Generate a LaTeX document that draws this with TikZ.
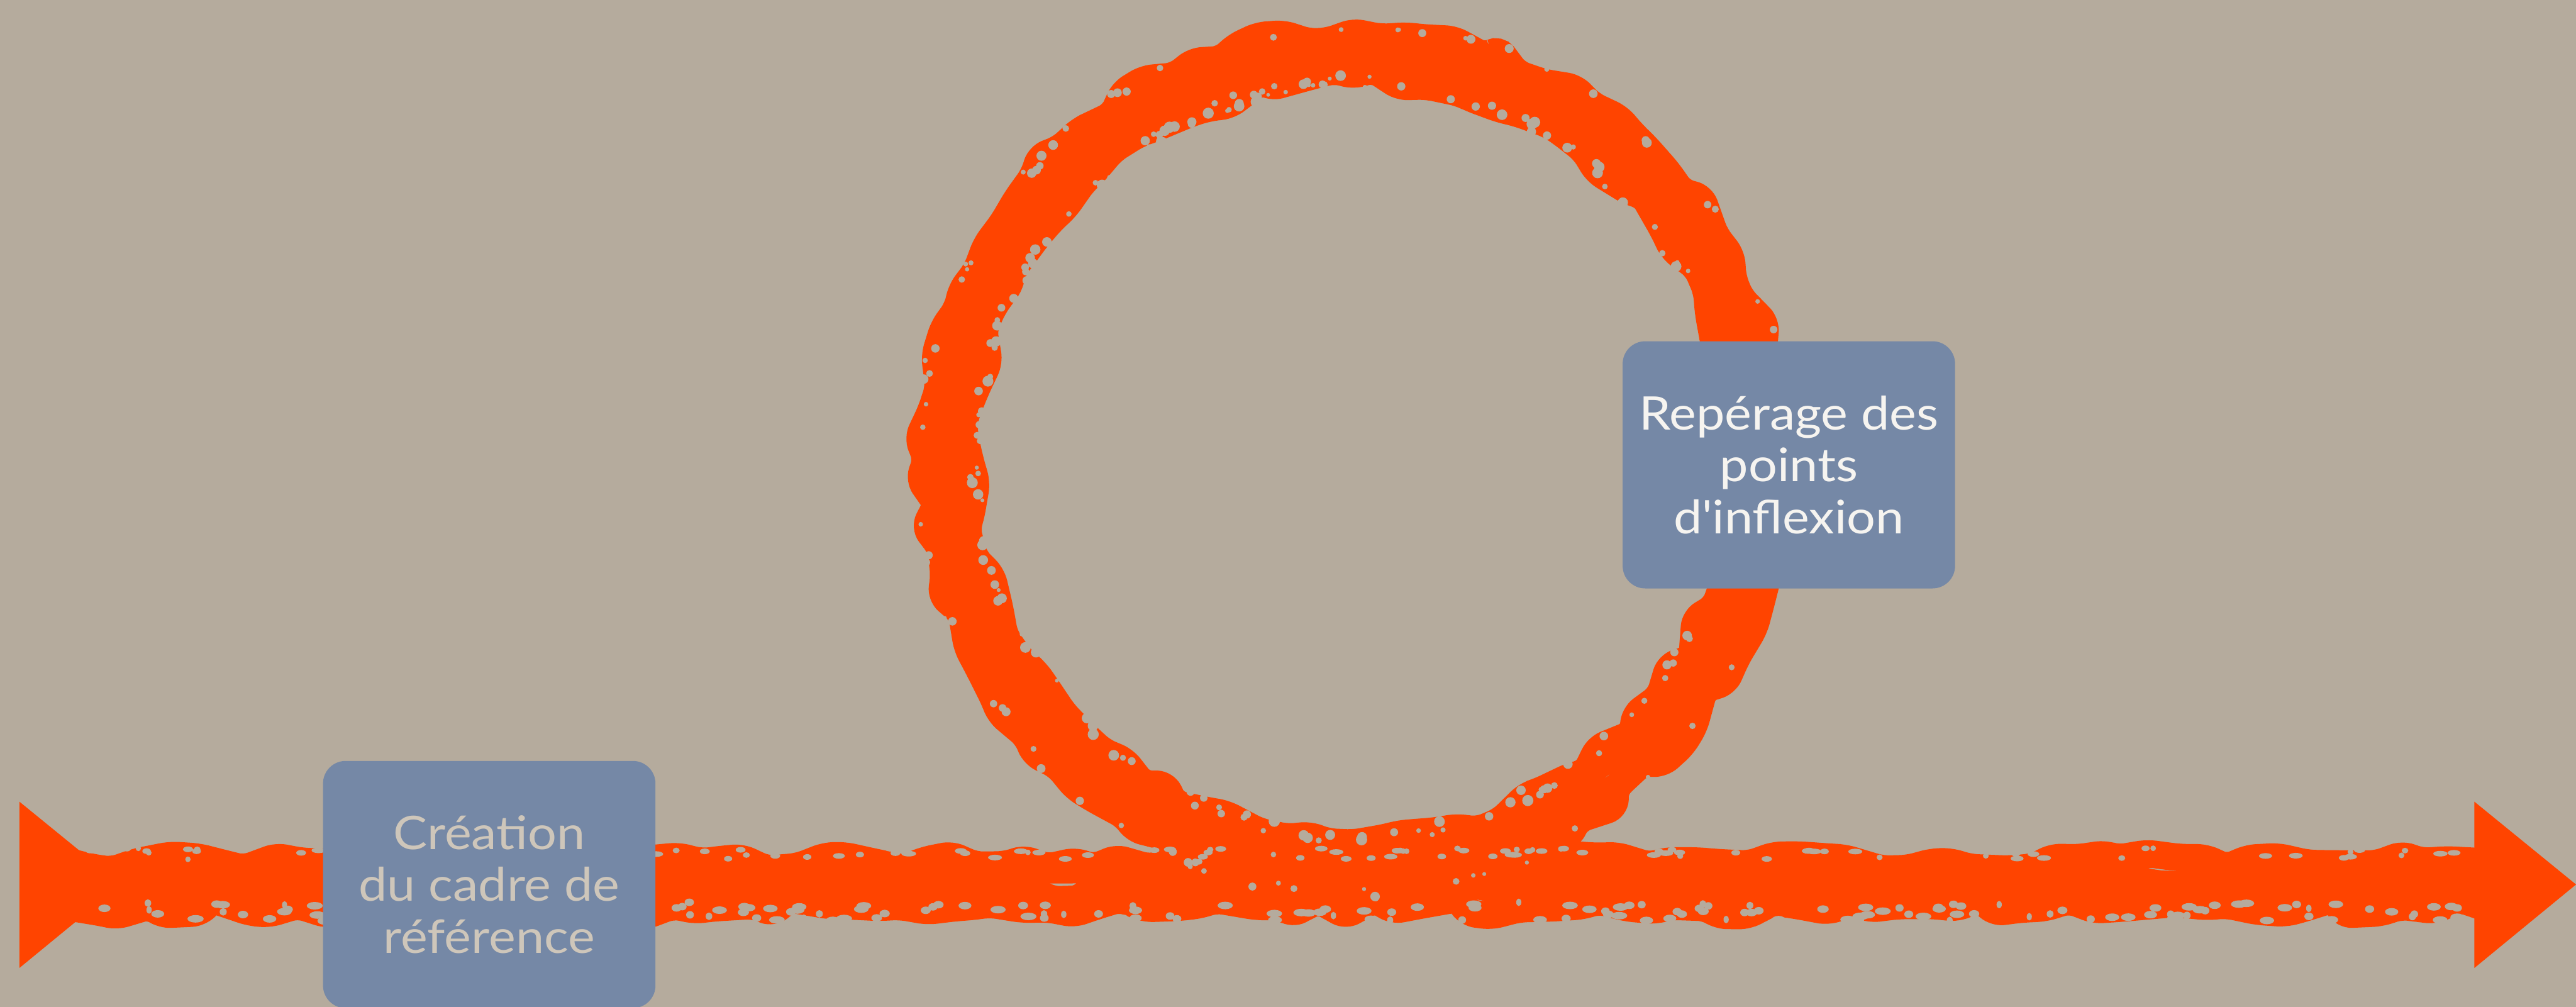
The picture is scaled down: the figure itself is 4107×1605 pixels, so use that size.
\documentclass[tikz,border=0pt]{standalone}
\usepackage{fontspec}
\setmainfont{Lato}[FakeStretch=1.1, Ligatures=TeXOff]
\usetikzlibrary{decorations.pathmorphing}
\definecolor{paper}{RGB}{181,171,157}
\definecolor{brush}{RGB}{255,68,0}
\definecolor{slate}{RGB}{117,136,166}
\definecolor{dimtext}{RGB}{206,198,186}
\definecolor{lighttext}{RGB}{246,244,240}

\begin{document}
\begin{tikzpicture}[x=0.1mm, y=-0.1mm,
    stroke/.style={draw=brush, line width=4.4mm, decorate,
      decoration={random steps, segment length=4mm, amplitude=1.4mm}, rounded corners=1.3mm},
    hole/.style={fill=paper},
    stepbox/.style={fill=slate, rounded corners=3.6mm, minimum width=53mm, minimum height=39.4mm,
      align=center, inner sep=0pt, font=\fontsize{21pt}{23.5pt}\selectfont}]
    \useasboundingbox (0,0) rectangle (4107,1605);
    \fill[paper] (0,0) rectangle (4107,1605);
    \pgfmathsetseed{17}

    % time line
    \coordinate (tail) at (110,1410);
    \coordinate (head) at (3960,1410);
    \foreach \dy in {-36,-12,12,36}
        \draw[stroke] ([yshift=\dy*0.1mm]tail) -- ([yshift=\dy*0.1mm]head);

    % loop
    \coordinate (loop) at (2158,732);
    \foreach \r in {611,634,657,680}
        \draw[stroke] (loop) circle (\r);

    % paint gaps along the edges
    \foreach \i in {1,...,110}{
        \pgfmathsetmacro{\hx}{140+3780*rnd}
        \pgfmathsetmacro{\hy}{1352+18*rnd}
        \pgfmathsetmacro{\rx}{0.4+0.8*rnd}
        \fill[hole] (\hx,\hy) ellipse (\rx mm and 0.45mm);
    }
    \foreach \i in {1,...,170}{
        \pgfmathsetmacro{\hx}{140+3780*rnd}
        \pgfmathsetmacro{\hy}{1438+30*rnd}
        \pgfmathsetmacro{\rx}{0.4+0.9*rnd}
        \fill[hole] (\hx,\hy) ellipse (\rx mm and 0.6mm);
    }
    \foreach \i in {1,...,160}{
        \pgfmathsetmacro{\ha}{-25-310*rnd}
        \pgfmathsetmacro{\hr}{590+22*rnd}
        \pgfmathsetmacro{\rx}{0.3+0.6*rnd}
        \fill[hole] (loop) ++(\ha:\hr) circle (\rx mm);
    }
    \foreach \i in {1,...,80}{
        \pgfmathsetmacro{\ha}{360*rnd}
        \pgfmathsetmacro{\hr}{684+18*rnd}
        \pgfmathsetmacro{\rx}{0.3+0.5*rnd}
        \fill[hole] (loop) ++(\ha:\hr) circle (\rx mm);
    }

    % arrow ends
    \fill[brush] (31,1278) -- (193,1410) -- (31,1543) -- cycle;
    \fill[brush] (3945,1278) -- (4107,1410) -- (3945,1543) -- cycle;

    % steps
    \node[stepbox, text=dimtext] (cadre) at (780,1410)
        {Création\\du cadre de\\référence};
    \node[stepbox, text=lighttext] (inflexion) at (2852,741)
        {Repérage des\\points\\d'inflexion};
\end{tikzpicture}
\end{document}
